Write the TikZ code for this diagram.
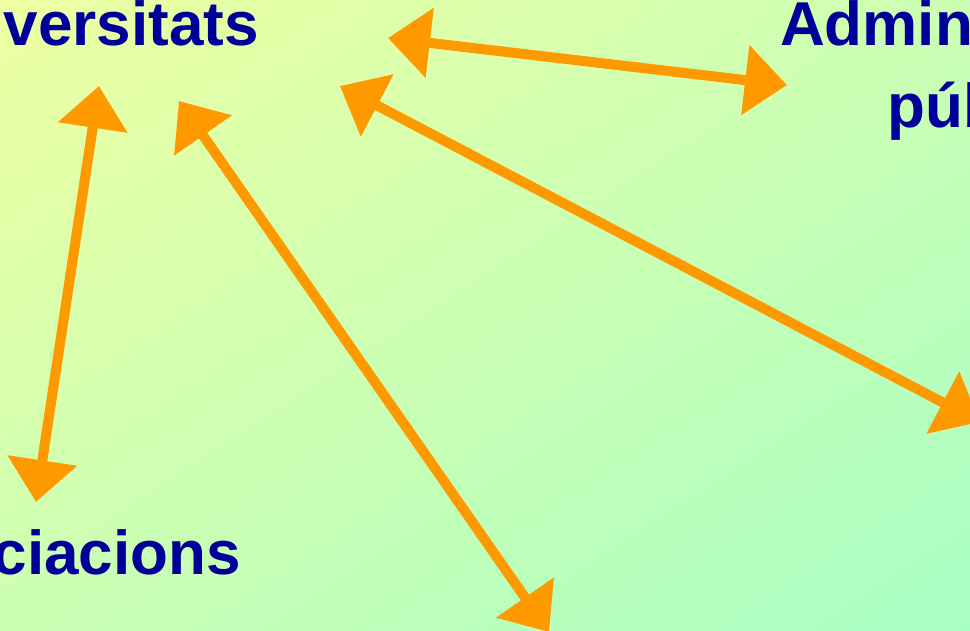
\documentclass[tikz,border=0pt]{standalone}
\usepackage{fontspec}
\setmainfont{Liberation Sans}
\usetikzlibrary{arrows.meta,shadings}
\definecolor{bgTL}{RGB}{238,255,162}
\definecolor{bgBR}{RGB}{168,255,196}
\definecolor{bgMID}{RGB}{203,255,179}
\definecolor{arrowc}{RGB}{255,153,0}
\definecolor{textc}{RGB}{0,0,153}
\tikzset{
  lbl/.style={text=textc, font=\fontsize{62}{83}\selectfont\bfseries, inner sep=0pt, align=center},
  link/.style={draw=arrowc, line width=10pt,
    {Triangle[length=42pt,width=68pt,fill=arrowc]}-{Triangle[length=42pt,width=68pt,fill=arrowc]}}
}
\begin{document}
\begin{tikzpicture}[x=1pt,y=-1pt]
\useasboundingbox (0,0) rectangle (970,630);
\clip (0,0) rectangle (970,630);
\shade[upper left=bgTL, lower right=bgBR, upper right=bgMID, lower left=bgMID] (0,0) rectangle (970,630);
\node[lbl, anchor=base east] (univ) at (259,45) {Universitats};
\node[lbl, anchor=base east] (assoc) at (241,574) {Associacions};
\node[lbl, anchor=base] (admin1) at (1023,45) {Administracions};
\node[lbl, anchor=base] (admin2) at (1034,127) {públiques};
\coordinate (a1) at (99,86);
\coordinate (a2) at (36,502);
\coordinate (b1) at (179,101);
\coordinate (b2) at (549,632);
\coordinate (c1) at (340,86);
\coordinate (c2) at (980,422);
\coordinate (d1) at (388,38);
\coordinate (d2) at (787,85);
\draw[link] (a1) -- (a2);
\draw[link] (b1) -- (b2);
\draw[link] (c1) -- (c2);
\draw[link] (d1) -- (d2);
\end{tikzpicture}
\end{document}
